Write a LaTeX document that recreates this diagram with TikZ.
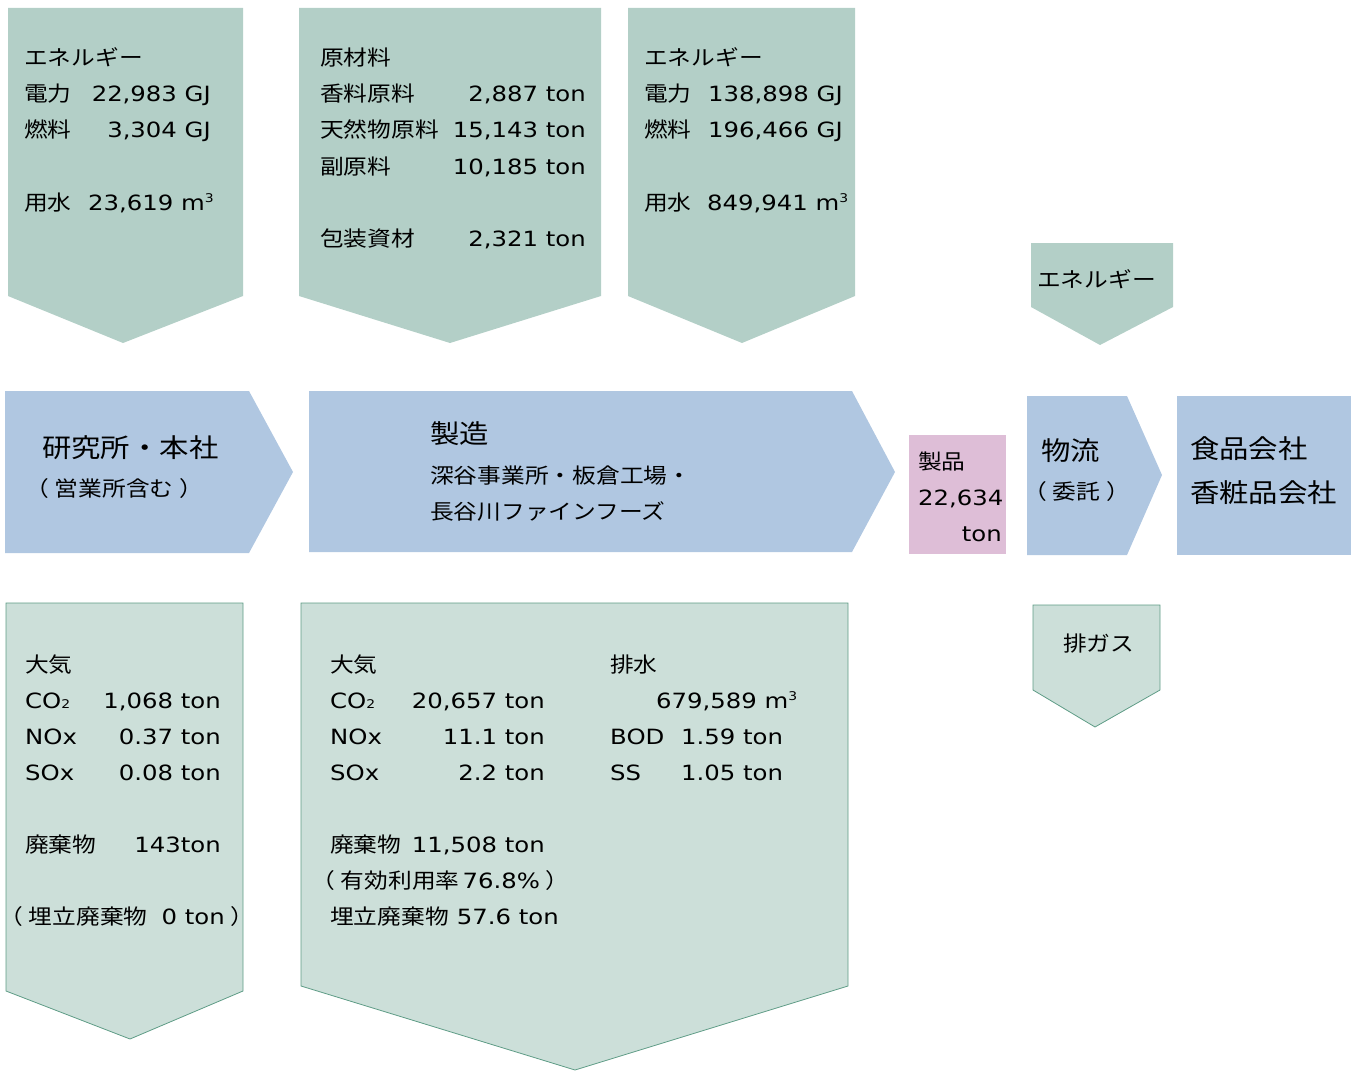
\documentclass[tikz,border=0pt]{standalone}
\usepackage{fontspec}
\setmainfont[FakeStretch=1.16]{DejaVu Sans}
\newfontfamily\jf[FakeStretch=1.13]{Noto Sans CJK JP}
\definecolor{topgreen}{HTML}{B3CFC7}
\definecolor{botgreen}{HTML}{CCDFD9}
\definecolor{botline}{HTML}{5E9C86}
\definecolor{procblue}{HTML}{B0C7E1}
\definecolor{prodpink}{HTML}{DEBED7}
\newcommand{\J}[1]{{\jf #1}}
\newcommand{\sub}[1]{{\fontsize{12}{12}\selectfont #1}}
\newcommand{\cube}{\raisebox{8pt}{\fontsize{12}{12}\selectfont 3}}
\newcommand{\lp}{\J{（}\hspace{6pt}}
\newcommand{\rp}{\hspace{6pt}\J{）}}
\tikzset{
  inarrow/.style={fill=topgreen, draw=none},
  outarrow/.style={fill=botgreen, draw=botline, line width=0.8pt},
  proc/.style={fill=procblue, draw=none},
  prod/.style={fill=prodpink, draw=none},
  lbl/.style={inner sep=0pt, anchor=base west, font=\fontsize{21}{24}\selectfont},
  val/.style={inner sep=0pt, anchor=base east, font=\fontsize{21}{24}\selectfont},
  big/.style={inner sep=0pt, anchor=base west, font=\fontsize{26}{30}\selectfont},
}
\begin{document}
\begin{tikzpicture}[x=1pt,y=-1pt]
\useasboundingbox (0,0) rectangle (1356,1070);
% ---- input arrows (top)
\path[inarrow] (8,8) -- (243,8) -- (243,296) -- (123,343) -- (8,296) -- cycle;
\path[inarrow] (299,8) -- (601,8) -- (601,296) -- (450,343) -- (299,296) -- cycle;
\path[inarrow] (628,8) -- (855,8) -- (855,296) -- (742,343) -- (628,296) -- cycle;
\path[inarrow] (1031,243) -- (1173,243) -- (1173,307) -- (1100,345) -- (1031,307) -- cycle;
% ---- process row
\path[proc] (5,391) -- (249,391) -- (293,472) -- (249,553) -- (5,553) -- cycle;
\path[proc] (309,391) -- (852,391) -- (895,472) -- (852,552) -- (309,552) -- cycle;
\path[prod] (909,435) rectangle (1006,554);
\path[proc] (1027,396) -- (1127,396) -- (1162,475) -- (1127,555) -- (1027,555) -- cycle;
\path[proc] (1177,396) rectangle (1351,555);
% ---- output arrows (bottom)
\path[outarrow] (6,603) -- (243,603) -- (243,991) -- (130,1039) -- (6,991) -- cycle;
\path[outarrow] (301,603) -- (848,603) -- (848,986) -- (575,1070) -- (301,986) -- cycle;
\path[outarrow] (1033,605) -- (1160,605) -- (1160,690) -- (1095,727) -- (1033,690) -- cycle;

% ---- texts: input 1
\node[lbl] (e1h) at (24,66) {\J{エネルギー}};
\node[lbl] (e1a) at (24,102) {\J{電力}};
\node[val] (e1av) at (211,102) {22,983 GJ};
\node[lbl] (e1b) at (24,138) {\J{燃料}};
\node[val] (e1bv) at (211,138) {3,304 GJ};
\node[lbl] (e1c) at (24,210) {\J{用水}};
\node[lbl] (e1cv) at (88,210) {23,619 m\cube};
% input 2
\node[lbl] (m2h) at (320,66) {\J{原材料}};
\node[lbl] (m2a) at (320,102) {\J{香料原料}};
\node[val] (m2av) at (586,102) {2,887 ton};
\node[lbl] (m2b) at (320,138) {\J{天然物原料}};
\node[val] (m2bv) at (586,138) {15,143 ton};
\node[lbl] (m2c) at (320,174) {\J{副原料}};
\node[val] (m2cv) at (586,174) {10,185 ton};
\node[lbl] (m2d) at (320,246) {\J{包装資材}};
\node[val] (m2dv) at (586,246) {2,321 ton};
% input 3
\node[lbl] (e3h) at (644,66) {\J{エネルギー}};
\node[lbl] (e3a) at (644,102) {\J{電力}};
\node[lbl] (e3av) at (708,102) {138,898 GJ};
\node[lbl] (e3b) at (644,138) {\J{燃料}};
\node[lbl] (e3bv) at (708,138) {196,466 GJ};
\node[lbl] (e3c) at (644,210) {\J{用水}};
\node[lbl] (e3cv) at (707,210) {849,941 m\cube};
% small energy
\node[lbl] (e4h) at (1037,287) {\J{エネルギー}};

% ---- process texts
\node[big] (p1a) at (42,457) {\J{研究所・本社}};
\node[lbl] (p1b) at (25,496) {\lp\J{営業所含む}\rp};
\node[big] (p2a) at (430,443) {\J{製造}};
\node[lbl] (p2b) at (430,483) {\J{深谷事業所・板倉工場・}};
\node[lbl] (p2c) at (430,519) {\J{長谷川ファインフーズ}};
\node[lbl] (pr1) at (918,469) {\J{製品}};
\node[lbl] (pr2) at (918,505) {22,634};
\node[val] (pr3) at (1002,541) {ton};
\node[big] (p3a) at (1041,460) {\J{物流}};
\node[lbl] (p3b) at (1023,499) {\lp\J{委託}\rp};
\node[big] (p4a) at (1190,458) {\J{食品会社}};
\node[big] (p4b) at (1190,502) {\J{香粧品会社}};

% ---- output 1
\node[lbl] (o1h) at (25,672) {\J{大気}};
\node[lbl] (o1a) at (25,708) {CO\sub{2}};
\node[val] (o1av) at (221,708) {1,068 ton};
\node[lbl] (o1b) at (25,744) {NOx};
\node[val] (o1bv) at (221,744) {0.37 ton};
\node[lbl] (o1c) at (25,780) {SOx};
\node[val] (o1cv) at (221,780) {0.08 ton};
\node[lbl] (o1d) at (25,852) {\J{廃棄物}};
\node[val] (o1dv) at (221,852) {143ton};
\node[lbl] (o1e) at (-1,924) {\lp\J{埋立廃棄物}\hspace{14pt}0 ton\rp};
% output 2
\node[lbl] (o2h) at (330,672) {\J{大気}};
\node[lbl] (o2a) at (330,708) {CO\sub{2}};
\node[val] (o2av) at (545,708) {20,657 ton};
\node[lbl] (o2b) at (330,744) {NOx};
\node[val] (o2bv) at (545,744) {11.1 ton};
\node[lbl] (o2c) at (330,780) {SOx};
\node[val] (o2cv) at (545,780) {2.2 ton};
\node[lbl] (o2d) at (330,852) {\J{廃棄物}};
\node[val] (o2dv) at (545,852) {11,508 ton};
\node[lbl] (o2e) at (311,888) {\lp\J{有効利用率}\hspace{3pt}76.8\%\rp};
\node[lbl] (o2f) at (330,924) {\J{埋立廃棄物}\hspace{8pt}57.6 ton};
\node[lbl] (w2h) at (610,672) {\J{排水}};
\node[lbl] (w2av) at (656,708) {679,589 m\cube};
\node[lbl] (w2b) at (610,744) {BOD};
\node[lbl] (w2bv) at (681,744) {1.59 ton};
\node[lbl] (w2c) at (610,780) {SS};
\node[lbl] (w2cv) at (681,780) {1.05 ton};
% output 3
\node[lbl] (o3h) at (1063,651) {\J{排ガス}};
\end{tikzpicture}
\end{document}
